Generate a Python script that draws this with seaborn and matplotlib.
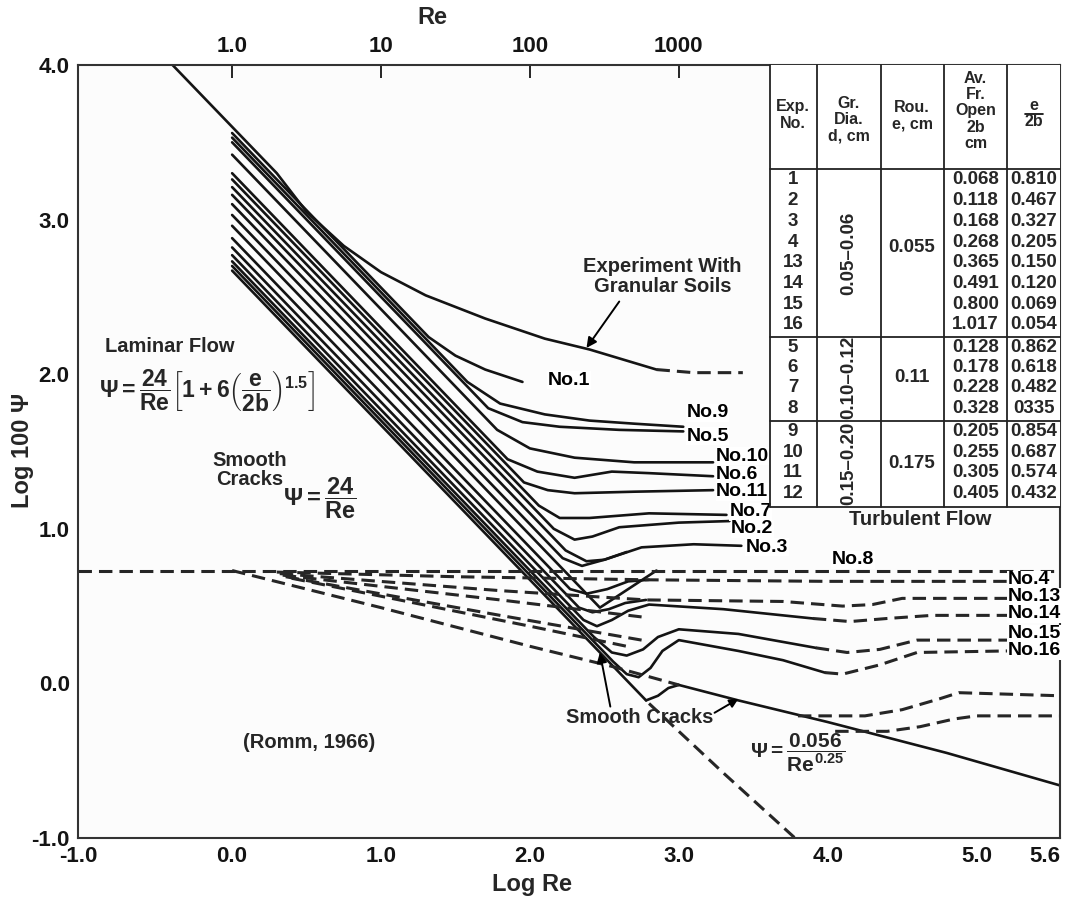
import matplotlib
matplotlib.use("Agg")
import matplotlib.pyplot as plt
from matplotlib.lines import Line2D
from matplotlib.patches import Rectangle
import seaborn as sns

# ---------------- curve data: x = log Re, y = log 100 psi ----------------
# experiment with granular soils (top line) and its dashed continuation
granular_x = [-0.40, 0.30, 0.50, 0.75, 1.00, 1.30, 1.70, 2.10, 2.40, 2.85]
granular_y = [4.00, 3.30, 3.05, 2.83, 2.66, 2.51, 2.36, 2.23, 2.16, 2.03]
granular_ext_x = [2.85, 3.10, 3.43]
granular_ext_y = [2.03, 2.01, 2.01]

no1_x = [0.00, 1.32, 1.50, 1.70, 1.95]
no1_y = [3.56, 2.24, 2.12, 2.03, 1.95]
no9_x = [0.00, 1.58, 1.80, 2.10, 2.40, 2.70, 3.03]
no9_y = [3.53, 1.95, 1.81, 1.74, 1.70, 1.68, 1.66]
no5_x = [0.00, 1.72, 1.95, 2.20, 2.60, 3.03]
no5_y = [3.50, 1.78, 1.69, 1.66, 1.64, 1.63]
no10_x = [0.00, 1.78, 2.00, 2.30, 2.70, 3.23]
no10_y = [3.42, 1.64, 1.52, 1.46, 1.43, 1.43]
no6_x = [0.00, 1.85, 2.05, 2.30, 2.55, 2.80, 3.23]
no6_y = [3.30, 1.45, 1.37, 1.33, 1.37, 1.36, 1.34]
no11_x = [0.00, 1.96, 2.12, 2.30, 2.70, 3.23]
no11_y = [3.26, 1.30, 1.25, 1.23, 1.24, 1.25]
no7_x = [0.00, 2.06, 2.20, 2.40, 2.80, 3.32]
no7_y = [3.21, 1.15, 1.07, 1.07, 1.10, 1.09]
no2_x = [0.00, 2.16, 2.30, 2.42, 2.60, 3.00, 3.34]
no2_y = [3.16, 1.00, 0.93, 0.95, 1.01, 1.04, 1.05]
no12_x = [0.00, 2.24, 2.38, 2.50, 2.65]
no12_y = [3.10, 0.86, 0.79, 0.80, 0.85]
no3_x = [0.00, 2.22, 2.35, 2.50, 2.75, 3.10, 3.42]
no3_y = [3.03, 0.81, 0.76, 0.80, 0.88, 0.90, 0.89]
no8_x = [0.00, 2.47, 2.85]
no8_y = [2.96, 0.49, 0.73]
no4_x = [0.00, 2.27, 2.38, 2.52, 2.66, 2.80]
no4_y = [2.88, 0.61, 0.58, 0.61, 0.66, 0.67]
no13_x = [0.00, 2.33, 2.42, 2.53, 2.64, 2.78]
no13_y = [2.82, 0.49, 0.46, 0.48, 0.52, 0.54]
no14_x = [0.00, 2.36, 2.45, 2.55, 2.66, 2.80, 3.30, 3.90]
no14_y = [2.77, 0.41, 0.37, 0.41, 0.47, 0.51, 0.48, 0.42]
no15_x = [0.00, 2.43, 2.55, 2.65, 2.76, 2.86, 3.00, 3.40, 3.92]
no15_y = [2.73, 0.30, 0.20, 0.18, 0.22, 0.30, 0.35, 0.32, 0.23]
no16_x = [0.00, 2.56, 2.65, 2.73, 2.81, 2.89, 3.00, 3.40, 3.70, 3.98]
no16_y = [2.70, 0.14, 0.06, 0.04, 0.10, 0.21, 0.28, 0.21, 0.15, 0.07]

# smooth cracks: laminar line, its hook and dashed continuation
smooth_lam_x = [0.00, 2.78]
smooth_lam_y = [2.67, -0.11]
smooth_hook_x = [2.78, 2.86, 2.93, 3.00]
smooth_hook_y = [-0.11, -0.08, -0.03, -0.01]
smooth_lam_ext_x = [2.80, 3.30, 3.78]
smooth_lam_ext_y = [-0.13, -0.58, -1.00]

# smooth cracks, turbulent branch psi = 0.056 / Re^0.25
smooth_turb_dash_x = [0.00, 1.00, 2.00, 2.55, 3.00]
smooth_turb_dash_y = [0.73, 0.49, 0.24, 0.11, -0.01]
smooth_turb_x = [3.00, 3.40, 4.00, 4.80, 5.56]
smooth_turb_y = [-0.01, -0.11, -0.25, -0.45, -0.66]

# dashed turbulent levels
no8_dash_x = [-1.035, 5.56]
no8_dash_y = [0.73, 0.73]
no4_dash_x = [0.30, 1.50, 2.80, 4.00, 5.21]
no4_dash_y = [0.72, 0.69, 0.67, 0.66, 0.66]
no13_dash_x = [0.32, 1.80, 2.78, 3.70, 4.10, 4.30, 4.50, 5.21]
no13_dash_y = [0.71, 0.60, 0.54, 0.53, 0.50, 0.51, 0.55, 0.55]
no14_fan_x = [0.34, 1.80, 2.75]
no14_fan_y = [0.70, 0.54, 0.43]
no14_dash_x = [3.90, 4.15, 4.40, 4.70, 5.21]
no14_dash_y = [0.42, 0.40, 0.42, 0.44, 0.44]
no15_fan_x = [0.36, 1.80, 2.75]
no15_fan_y = [0.69, 0.44, 0.28]
no15_dash_x = [3.92, 4.13, 4.35, 4.60, 5.21]
no15_dash_y = [0.23, 0.20, 0.22, 0.28, 0.28]
no16_fan_x = [0.40, 2.00, 2.65]
no16_fan_y = [0.68, 0.37, 0.24]
no16_dash_x = [3.98, 4.10, 4.35, 4.60, 5.21]
no16_dash_y = [0.07, 0.06, 0.12, 0.20, 0.21]
low_a_x = [3.80, 4.25, 4.50, 4.75, 4.88, 5.56]
low_a_y = [-0.21, -0.21, -0.17, -0.10, -0.06, -0.08]
low_b_x = [4.05, 4.40, 4.62, 4.85, 5.00, 5.56]
low_b_y = [-0.31, -0.31, -0.28, -0.23, -0.21, -0.21]

# axis ticks
x_ticks = [-1.035, 0, 1, 2, 3, 4, 5, 5.56]
x_labels = ["-1.0", "0.0", "1.0", "2.0", "3.0", "4.0", "5.0", "5.6"]
y_ticks = [-1, 0, 1, 2, 3, 4]
y_labels = ["-1.0", "0.0", "1.0", "2.0", "3.0", "4.0"]
re_ticks = [0, 1, 2, 3]
re_labels = ["1.0", "10", "100", "1000"]

# experiment table
exp_no = ["1", "2", "3", "4", "13", "14", "15", "16", "5", "6", "7", "8", "9", "10", "11", "12"]
open_2b = ["0.068", "0.118", "0.168", "0.268", "0.365", "0.491", "0.800", "1.017",
           "0.128", "0.178", "0.228", "0.328", "0.205", "0.255", "0.305", "0.405"]
e_over_2b = ["0.810", "0.467", "0.327", "0.205", "0.150", "0.120", "0.069", "0.054",
             "0.862", "0.618", "0.482", "0335", "0.854", "0.687", "0.574", "0.432"]
grain_dia = ["0.05\u20130.06", "0.10\u20130.12", "0.15\u20130.20"]
roughness = ["0.055", "0.11", "0.175"]

# ---------------- styling ----------------
sns.set_theme(style="white")
plt.rcParams["font.family"] = ["Liberation Sans", "DejaVu Sans"]
plt.rcParams["font.weight"] = "bold"
plt.rcParams["mathtext.fontset"] = "custom"
plt.rcParams["mathtext.rm"] = "Liberation Sans:bold"
plt.rcParams["mathtext.it"] = "Liberation Sans:bold"
plt.rcParams["mathtext.bf"] = "Liberation Sans:bold"

INK = "#141414"
W, H = 1069, 909
fig = plt.figure(figsize=(W / 100, H / 100), dpi=100)
ax = fig.add_axes([78 / W, 1 - 838 / H, 982 / W, 773 / H])
ax.set_facecolor("#fcfcfc")


def fx(px):
    return px / W


def fy(py):
    return 1 - py / H


solid = [
    (granular_x, granular_y), (no1_x, no1_y), (no9_x, no9_y), (no5_x, no5_y),
    (no10_x, no10_y), (no6_x, no6_y), (no11_x, no11_y), (no7_x, no7_y),
    (no2_x, no2_y), (no12_x, no12_y), (no3_x, no3_y), (no8_x, no8_y),
    (no4_x, no4_y), (no13_x, no13_y), (no14_x, no14_y), (no15_x, no15_y),
    (no16_x, no16_y), (smooth_lam_x, smooth_lam_y), (smooth_hook_x, smooth_hook_y),
    (smooth_turb_x, smooth_turb_y),
]
dashed = [
    (granular_ext_x, granular_ext_y), (smooth_lam_ext_x, smooth_lam_ext_y),
    (smooth_turb_dash_x, smooth_turb_dash_y), (no8_dash_x, no8_dash_y),
    (no4_dash_x, no4_dash_y), (no13_dash_x, no13_dash_y),
    (no14_fan_x, no14_fan_y), (no14_dash_x, no14_dash_y),
    (no15_fan_x, no15_fan_y), (no15_dash_x, no15_dash_y),
    (no16_fan_x, no16_fan_y), (no16_dash_x, no16_dash_y),
    (low_a_x, low_a_y), (low_b_x, low_b_y),
]

for xs, ys in solid:
    sns.lineplot(x=xs, y=ys, sort=False, estimator=None, color=INK,
                 linewidth=1.9, ax=ax, zorder=2)
for xs, ys in dashed:
    sns.lineplot(x=xs, y=ys, sort=False, estimator=None, color="#262626",
                 linewidth=2.2, linestyle=(0, (4.4, 2.3)), ax=ax, zorder=2)

ax.set_xlim(-1.035, 5.56)
ax.set_ylim(-1.0, 4.0)
ax.set_xticks(x_ticks)
ax.set_xticklabels(x_labels)
ax.set_yticks(y_ticks)
ax.set_yticklabels(y_labels)
ax.tick_params(axis="both", direction="in", length=9, width=1.3, colors=INK,
               labelsize=16, pad=6)
xtl = ax.get_xticklabels()
xtl[-1].set_horizontalalignment("right")
xtl[-1].set_x(5.56)
ax.set_xlabel("")
ax.set_ylabel("")
for s in ax.spines.values():
    s.set_color("#333333")
    s.set_linewidth(1.5)

top = ax.secondary_xaxis("top")
top.set_xticks(re_ticks)
top.set_xticklabels(re_labels)
top.tick_params(direction="in", length=9, width=1.3, colors=INK, labelsize=16, pad=6)

fig.text(fx(432), fy(18), "Re", ha="center", va="center", fontsize=17, fontweight="bold")
fig.text(fx(532), fy(884), "Log Re", ha="center", va="center", fontsize=17, fontweight="bold")
fig.text(fx(22), fy(450), "Log 100 \u03a8", ha="center", va="center", rotation=90,
         fontsize=17, fontweight="bold")

# ---------------- annotations ----------------
lab = dict(fontsize=14, fontweight="bold", color="black", zorder=6,
           bbox=dict(facecolor="white", edgecolor="none", pad=0.3))
ax.text(-0.42, 2.18, "Laminar Flow", ha="center", va="center", fontsize=14.5,
        fontweight="bold", zorder=6)
ax.text(-0.17, 1.89,
        r"$\Psi = \dfrac{24}{Re}\left[1 + 6\left(\dfrac{e}{2b}\right)^{1.5}\right]$",
        ha="center", va="center", fontsize=16.5, zorder=6)
ax.text(0.12, 1.38, "Smooth\nCracks", ha="center", va="center", fontsize=14.5,
        fontweight="bold", linespacing=1.05, zorder=6)
ax.text(0.59, 1.20, r"$\Psi = \dfrac{24}{Re}$", ha="center", va="center",
        fontsize=17, zorder=6)
ax.text(2.89, 2.63, "Experiment With\nGranular Soils", ha="center", va="center",
        fontsize=14.5, fontweight="bold", linespacing=1.05, zorder=6)
ax.annotate("", xy=(2.38, 2.17), xytext=(2.60, 2.47),
            arrowprops=dict(arrowstyle="-|>", color="black", lw=1.4,
                            mutation_scale=15, shrinkA=0, shrinkB=0), zorder=6)
ax.text(2.12, 1.96, "No.1", ha="left", va="center", **lab)
ax.text(3.05, 1.75, "No.9", ha="left", va="center", **lab)
ax.text(3.05, 1.60, "No.5", ha="left", va="center", **lab)
ax.text(3.25, 1.47, "No.10", ha="left", va="center", **lab)
ax.text(3.25, 1.35, "No.6", ha="left", va="center", **lab)
ax.text(3.25, 1.24, "No.11", ha="left", va="center", **lab)
ax.text(3.34, 1.11, "No.7", ha="left", va="center", **lab)
ax.text(3.35, 1.00, "No.2", ha="left", va="center", **lab)
ax.text(3.45, 0.88, "No.3", ha="left", va="center", **lab)
ax.text(4.62, 1.06, "Turbulent Flow", ha="center", va="center", fontsize=14.5,
        fontweight="bold", zorder=6)
ax.text(4.17, 0.80, "No.8", ha="center", va="center", **lab)
ax.text(5.21, 0.67, "No.4", ha="left", va="center", **lab)
ax.text(5.21, 0.56, "No.13", ha="left", va="center", **lab)
ax.text(5.21, 0.45, "No.14", ha="left", va="center", **lab)
ax.text(5.21, 0.32, "No.15", ha="left", va="center", **lab)
ax.text(5.21, 0.21, "No.16", ha="left", va="center", **lab)
ax.text(2.74, -0.22, "Smooth Cracks", ha="center", va="center", fontsize=14.5,
        fontweight="bold", zorder=6)
ax.annotate("", xy=(2.47, 0.20), xytext=(2.54, -0.15),
            arrowprops=dict(arrowstyle="-|>", color="black", lw=1.4,
                            mutation_scale=15, shrinkA=0, shrinkB=0), zorder=6)
ax.annotate("", xy=(3.40, -0.10), xytext=(3.24, -0.19),
            arrowprops=dict(arrowstyle="-|>", color="black", lw=1.4,
                            mutation_scale=13, shrinkA=0, shrinkB=0), zorder=6)
ax.text(3.80, -0.45, r"$\Psi = \dfrac{0.056}{Re^{0.25}}$", ha="center", va="center",
        fontsize=15, zorder=6)
ax.text(0.52, -0.38, "(Romm, 1966)", ha="center", va="center", fontsize=14.5,
        fontweight="bold", zorder=6)

# ---------------- experiment table ----------------
tf = fig.transFigure
ax.add_patch(Rectangle((fx(770), fy(507)), fx(1060) - fx(770), fy(65) - fy(507),
                       transform=tf, facecolor="white", edgecolor="none",
                       zorder=5, clip_on=False))
grid_kw = dict(transform=tf, color="#222222", linewidth=1.3, zorder=7, clip_on=False)
for vx in [770, 817, 881, 944, 1007]:
    ax.add_line(Line2D([fx(vx), fx(vx)], [fy(65), fy(507)], **grid_kw))
for hy in [169, 337, 421, 507]:
    ax.add_line(Line2D([fx(770), fx(1060)], [fy(hy), fy(hy)], **grid_kw))

hdr = dict(ha="center", va="center", fontsize=11.5, fontweight="bold",
           linespacing=1.12, zorder=8)
fig.text(fx(793), fy(115), "Exp.\nNo.", **hdr)
fig.text(fx(849), fy(120), "Gr.\nDia.\nd, cm", **hdr)
fig.text(fx(912), fy(116), "Rou.\ne, cm", **hdr)
fig.text(fx(975.5), fy(111), "Av.\nFr.\nOpen\n2b\ncm", **hdr)
fig.text(fx(1034), fy(106), "e", **hdr)
fig.text(fx(1034), fy(122), "2b", **hdr)
ax.add_line(Line2D([fx(1025), fx(1043)], [fy(114), fy(114)], transform=tf,
                   color="black", linewidth=1.2, zorder=8, clip_on=False))

row_y = ([180 + 20.7 * k for k in range(8)] + [347 + 20.4 * k for k in range(4)]
         + [432 + 20.4 * k for k in range(4)])
cell = dict(ha="center", va="center", fontsize=13.5, fontweight="bold", zorder=8)
for i in range(len(exp_no)):
    fig.text(fx(793), fy(row_y[i]), exp_no[i], **cell)
    fig.text(fx(975.5), fy(row_y[i]), open_2b[i], **cell)
    fig.text(fx(1034), fy(row_y[i]), e_over_2b[i], **cell)

group_mid = [253, 377, 463]
rough_mid = [248, 378, 463]
for g in range(3):
    fig.text(fx(849), fy(group_mid[g]), grain_dia[g], rotation=90, **cell)
    fig.text(fx(912), fy(rough_mid[g]), roughness[g], **cell)

fig.savefig("out.png", dpi=100, facecolor="white")
